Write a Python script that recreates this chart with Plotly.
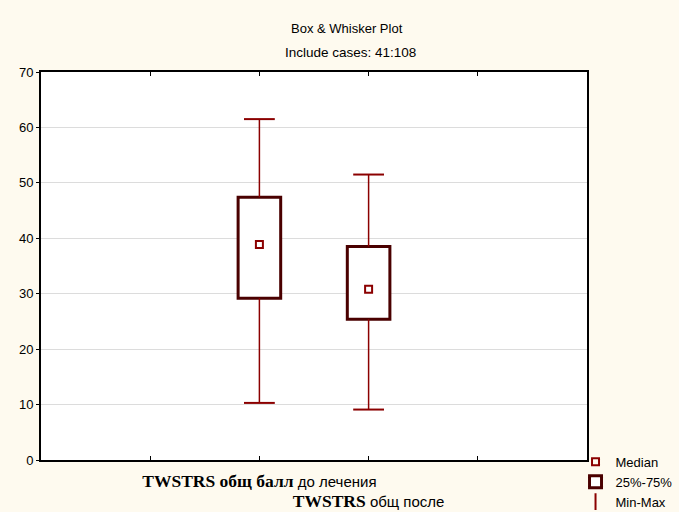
import plotly.graph_objects as go

# ---- data ----
positions = [2, 3]
labels = [
    '<span style="font-family:Liberation Serif;font-weight:bold;font-size:17.5px">TWSTRS общ балл</span> до лечения',
    '<br><span style="font-family:Liberation Serif;font-weight:bold;font-size:17.5px">TWSTRS</span> общ после',
]
v_min = [10.3, 9.1]
v_q1 = [29.2, 25.4]
v_median = [38.9, 30.8]
v_q3 = [47.4, 38.5]
v_max = [61.5, 51.5]
y_ticks = [0, 10, 20, 30, 40, 50, 60, 70]

BOX_C = "#4a0000"
WH_C = "#8b0000"
FONT = "Liberation Sans, Arial, sans-serif"

fig = go.Figure()

# whisker stems
sx, sy = [], []
for x, lo, q1, q3, hi in zip(positions, v_min, v_q1, v_q3, v_max):
    sx += [x, x, None, x, x, None]
    sy += [hi, q3, None, q1, lo, None]
fig.add_trace(go.Scatter(x=sx, y=sy, mode="lines", line=dict(color=WH_C, width=1.5),
                         showlegend=False, hoverinfo="skip"))

# whisker caps
fig.add_trace(go.Scatter(x=positions + positions, y=v_max + v_min, mode="markers",
                         marker=dict(symbol="line-ew-open", size=22, color=WH_C,
                                     line=dict(color=WH_C, width=2)),
                         showlegend=False, hoverinfo="skip"))

# boxes
fig.add_trace(go.Bar(x=positions, base=v_q1, y=[b - a for a, b in zip(v_q1, v_q3)],
                     width=0.39, marker=dict(color="white", line=dict(color=BOX_C, width=3)),
                     name="25%-75%", legendrank=2))

# medians
fig.add_trace(go.Scatter(x=positions, y=v_median, mode="markers",
                         marker=dict(symbol="square-open", size=7, line=dict(color=WH_C, width=2), color=WH_C),
                         name="Median", legendrank=1))

# legend entry for min-max
fig.add_trace(go.Scatter(x=[None], y=[None], mode="markers",
                         marker=dict(symbol="line-ns-open", size=12, color=WH_C,
                                     line=dict(color=WH_C, width=2)),
                         name="Min-Max", legendrank=3))

fig.update_layout(
    width=679, height=512,
    margin=dict(l=41, r=92, t=72, b=52, autoexpand=False),
    paper_bgcolor="#fefaef",
    plot_bgcolor="white",
    font=dict(family=FONT, size=13, color="black"),
    barmode="overlay",
    legend=dict(x=0.979, y=0.034, xanchor="left", yanchor="top", bgcolor="rgba(0,0,0,0)",
                font=dict(size=13, family=FONT), tracegroupgap=0, itemwidth=30),
    annotations=[
        dict(text="Box & Whisker Plot", xref="paper", yref="paper", x=0.56, y=1.111,
             showarrow=False, xanchor="center", yanchor="middle", font=dict(size=13)),
        dict(text="Include cases: 41:108", xref="paper", yref="paper", x=0.567, y=1.049,
             showarrow=False, xanchor="center", yanchor="middle", font=dict(size=13.5)),
    ],
)

fig.update_xaxes(range=[0, 5], tickvals=[1, 2, 3, 4], ticktext=["", labels[0], labels[1], ""],
                 tickangle=0, automargin=False, ticklabelstandoff=7,
                 showgrid=False, zeroline=False, showline=True, linecolor="black", linewidth=2,
                 mirror="ticks", ticks="inside", ticklen=4, tickcolor="black", tickwidth=1,
                 tickfont=dict(size=15, family=FONT))
fig.update_yaxes(range=[0, 70], tickvals=y_ticks, showgrid=True, gridcolor="#dcdcdc", gridwidth=1,
                 automargin=False,
                 zeroline=False, showline=True, linecolor="black", linewidth=2, mirror=True,
                 ticks="outside", ticklen=3, tickcolor="black", tickfont=dict(size=13, family=FONT))

fig.write_html("out.html")
